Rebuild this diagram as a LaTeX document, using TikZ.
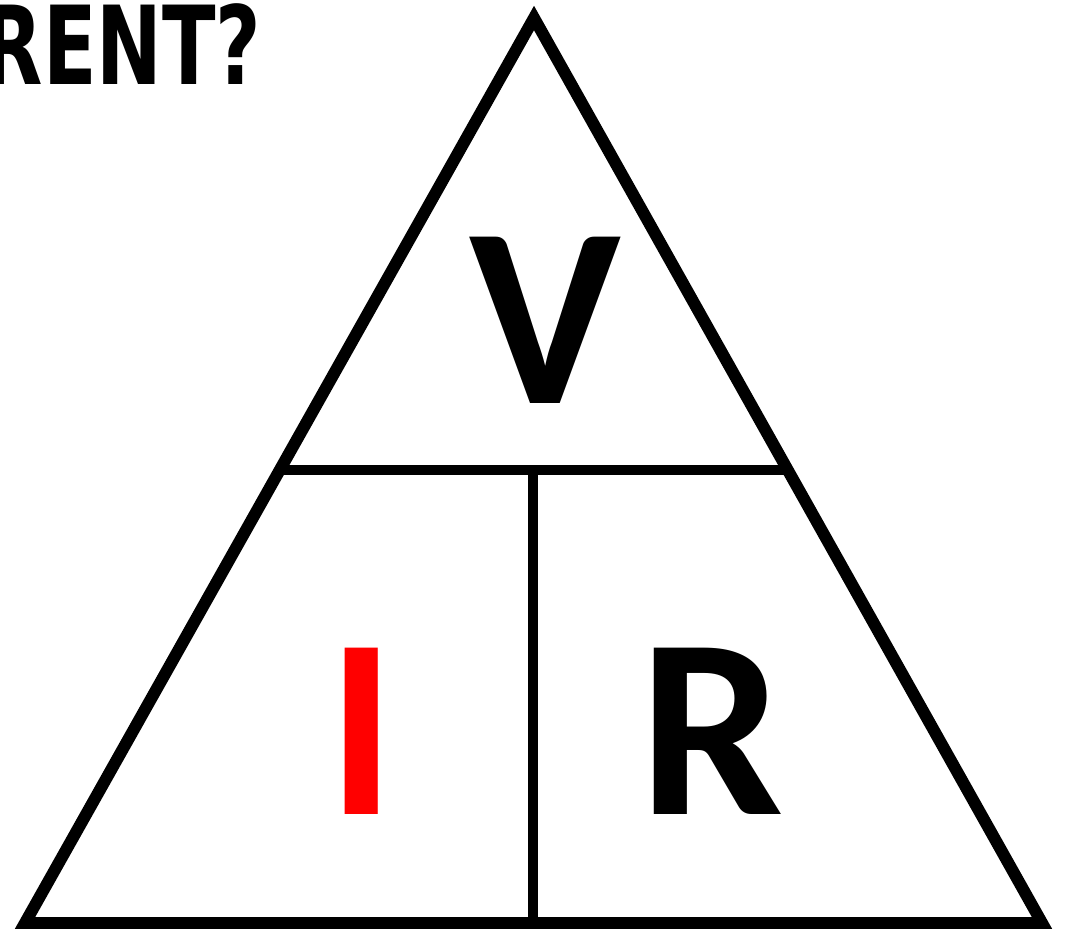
\documentclass[tikz,border=0pt]{standalone}
\usepackage{fontspec}
\setmainfont{Carlito}
\newfontfamily\titlefont{DejaVu Sans}
\usetikzlibrary{positioning, calc}
\definecolor{ohmred}{HTML}{FF0000}

\begin{document}
\begin{tikzpicture}[line join=miter]

% Frame (page size)
\useasboundingbox (0,0) rectangle (10.69,9.30);

% Title, cut off at the left edge
\node[font=\titlefont\bfseries\fontsize{31}{34}\selectfont, anchor=base east, inner sep=0pt,
  xscale=0.72] (title) at (2.62,0.85+7.6) {RENT?};

% Corners of the triangle
\coordinate (apex) at (5.34,9.12);
\coordinate (botleft) at (0.25,0.07);
\coordinate (botright) at (10.42,0.07);

% Divider points
\coordinate (midleft) at ($(apex)!0.4994!(botleft)$);
\coordinate (midright) at ($(apex)!0.4994!(botright)$);
\coordinate (divtop) at (5.33,4.60);
\coordinate (divbot) at (5.33,0.07);

% Outline
\draw[line width=3.4pt] (apex) -- (botleft) -- (botright) -- cycle;

% Dividers
\draw[line width=2.9pt] (midleft) -- (midright);
\draw[line width=2.9pt] (divtop) -- (divbot);

% Letters
\node[font=\bfseries\fontsize{73}{80}\selectfont] (volt) at (5.45,6.10) {V};
\node[font=\bfseries\fontsize{73}{80}\selectfont, text=ohmred] (curr) at (3.62,1.99) {I};
\node[font=\bfseries\fontsize{73}{80}\selectfont] (resist) at (7.12,1.99) {R};

\end{tikzpicture}
\end{document}
